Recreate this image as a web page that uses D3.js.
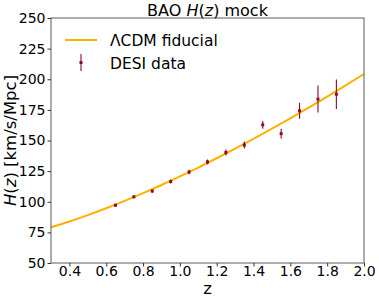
<!DOCTYPE html>
<html>
<head>
<meta charset="utf-8">
<script src="https://cdn.jsdelivr.net/npm/d3@7"></script>
<style>
body { margin: 0; background: #fff; }
</style>
</head>
<body>
<script>
const w = 379, h = 302;
const margin = {top: 18, right: 15, bottom: 39, left: 51};
const font = "DejaVu Sans";

// DESI mock points
const dataZ = [0.65, 0.75, 0.85, 0.95, 1.05, 1.15, 1.25, 1.35, 1.45, 1.55, 1.65, 1.75, 1.85];
const dataH = [97.2, 104, 108.7, 116.5, 124.3, 132.5, 140.2, 146.3, 162.8, 155.6, 174.3, 183.8, 187.8];
const dataErr = [1, 1.2, 1.4, 1.6, 1.8, 2, 2.4, 2.8, 3.2, 4, 6.5, 11, 12];

// fiducial curve
const curveZ = [0.3, 0.4, 0.5, 0.6, 0.7, 0.8, 0.9, 1.0, 1.1, 1.2, 1.3, 1.4, 1.5, 1.6, 1.7, 1.8, 1.9, 2.0];
const curveH = [79.1, 83.9, 89.1, 94.7, 100.7, 107.0, 113.7, 120.7, 127.9, 135.5, 143.3, 151.3, 159.6, 168.1, 176.9, 185.8, 195.0, 204.3];

const xTicks = [0.4, 0.6, 0.8, 1.0, 1.2, 1.4, 1.6, 1.8, 2.0];
const yTicks = [50, 75, 100, 125, 150, 175, 200, 225, 250];

const lineColor = "#ffb000";
const pointColor = "#8b0a2e";

let svg = d3.select("body").append("svg")
  .attr("width", w).attr("height", h)
  .attr("font-family", font);

const x = d3.scaleLinear().domain([0.3, 2.0]).range([margin.left, w - margin.right]);
const y = d3.scaleLinear().domain([50, 250]).range([h - margin.bottom, margin.top]);

// fiducial line
svg.append("path")
  .datum(curveZ.map((z, i) => [z, curveH[i]]))
  .attr("fill", "none")
  .attr("stroke", lineColor)
  .attr("stroke-width", 2)
  .attr("d", d3.line().x(d => x(d[0])).y(d => y(d[1])).curve(d3.curveMonotoneX));

// error bars + markers
const pts = dataZ.map((z, i) => ({z: z, h: dataH[i], e: dataErr[i]}));
svg.selectAll(".err").data(pts).join("line")
  .attr("x1", d => x(d.z)).attr("x2", d => x(d.z))
  .attr("y1", d => y(d.h - d.e)).attr("y2", d => y(d.h + d.e))
  .attr("stroke", pointColor).attr("stroke-width", 1.1);

svg.selectAll(".pt").data(pts).join("rect")
  .attr("x", d => x(d.z) - 1.5).attr("y", d => y(d.h) - 1.5)
  .attr("width", 3).attr("height", 3)
  .attr("fill", pointColor);

// axes
const xAxis = svg.append("g")
  .attr("transform", `translate(0,${h - margin.bottom})`)
  .call(d3.axisBottom(x).tickValues(xTicks).tickFormat(d3.format(".1f")).tickSizeOuter(0).tickSize(3.5));
const yAxis = svg.append("g")
  .attr("transform", `translate(${margin.left},0)`)
  .call(d3.axisLeft(y).tickValues(yTicks).tickSizeOuter(0).tickSize(3.5));

[xAxis, yAxis].forEach(g => {
  g.attr("font-family", font).attr("font-size", 14);
  g.select(".domain").remove();
  g.selectAll("line").attr("stroke", "#000").attr("stroke-width", 0.8);
  g.selectAll("text").attr("fill", "#000");
});
xAxis.selectAll("text").attr("y", 13).attr("dy", 0);
yAxis.selectAll("text").attr("x", -5.5);

// frame
svg.append("rect")
  .attr("x", margin.left).attr("y", margin.top)
  .attr("width", w - margin.left - margin.right)
  .attr("height", h - margin.top - margin.bottom)
  .attr("fill", "none").attr("stroke", "#333").attr("stroke-width", 0.8);

// title
const title = svg.append("text")
  .attr("x", (margin.left + w - margin.right) / 2).attr("y", 15.5)
  .attr("text-anchor", "middle").attr("font-size", 16);
title.append("tspan").text("BAO ");
title.append("tspan").attr("font-style", "italic").text("H");
title.append("tspan").text("(");
title.append("tspan").attr("font-style", "italic").text("z");
title.append("tspan").text(") mock");

// axis labels
svg.append("text")
  .attr("x", (margin.left + w - margin.right) / 2).attr("y", 294)
  .attr("text-anchor", "middle").attr("font-size", 16.5).text("z");

const yl = svg.append("text")
  .attr("transform", `translate(16,${(margin.top + h - margin.bottom) / 2}) rotate(-90)`)
  .attr("text-anchor", "middle").attr("font-size", 16.5);
yl.append("tspan").attr("font-style", "italic").text("H");
yl.append("tspan").text("(");
yl.append("tspan").attr("font-style", "italic").text("z");
yl.append("tspan").text(") [km/s/Mpc]");

// legend
const leg = svg.append("g").attr("font-size", 15.5);
leg.append("line")
  .attr("x1", 65).attr("x2", 97).attr("y1", 40).attr("y2", 40)
  .attr("stroke", lineColor).attr("stroke-width", 2);
leg.append("text").attr("x", 110).attr("y", 45.5).text("ΛCDM fiducial");
leg.append("line")
  .attr("x1", 81).attr("x2", 81).attr("y1", 54).attr("y2", 71)
  .attr("stroke", pointColor).attr("stroke-width", 1.1);
leg.append("rect")
  .attr("x", 79.5).attr("y", 61).attr("width", 3).attr("height", 3)
  .attr("fill", pointColor);
leg.append("text").attr("x", 110).attr("y", 68.5).text("DESI data");
</script>
</body>
</html>
